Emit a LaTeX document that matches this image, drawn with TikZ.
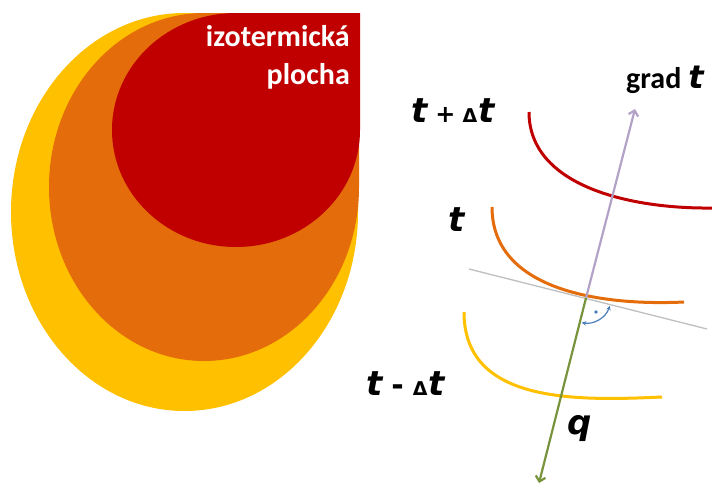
\documentclass[tikz,border=0pt]{standalone}
\usepackage{fontspec}
\setmainfont{Carlito}
\newfontfamily\tfont{DejaVu Sans}[ItalicFont={* Oblique}, BoldItalicFont={* Bold Oblique}]
\usepackage{tikz}
\usetikzlibrary{arrows.meta, positioning}

\definecolor{isoYellow}{HTML}{FFC000}
\definecolor{isoOrange}{HTML}{E46C0A}
\definecolor{isoRed}{HTML}{C00000}
\definecolor{gradPurple}{HTML}{B3A2C7}
\definecolor{flowGreen}{HTML}{77933C}
\definecolor{tanGray}{HTML}{BFBFBF}
\definecolor{angBlue}{HTML}{4A7EBB}

\newcommand{\tvar}[1][34]{{\fontsize{#1}{#1}\selectfont\tfont\bfseries\itshape t}}
\newcommand{\tsym}[2]{{\fontsize{#1}{#1}\selectfont\tfont\bfseries #2}}

\begin{document}
\begin{tikzpicture}[x=1pt, y=-1pt,
    isoline/.style={line width=3pt},
    vecline/.style={line width=2.2pt, -{Straight Barb[length=5pt, width=10pt]}},
    tlabel/.style={inner sep=0, anchor=base west},
    anglemark/.style={angBlue, line width=1.2pt, {Stealth[length=4.5pt, width=4.5pt]}-{Stealth[length=4.5pt, width=4.5pt]}}]
\useasboundingbox (0,0) rectangle (712,485);

% Isothermal surfaces (teardrops sharing the top right corner)
\fill[isoYellow] (11,212) arc[start angle=180, end angle=90, x radius=173.5pt, y radius=199pt]
    -- (358,13) -- (358,212) arc[start angle=0, end angle=-180, x radius=173.5pt, y radius=199pt] -- cycle;
\fill[isoOrange] (49,187) arc[start angle=180, end angle=90, x radius=155pt, y radius=174pt]
    -- (359,13) -- (359,187) arc[start angle=0, end angle=-180, x radius=155pt, y radius=174pt] -- cycle;
\fill[isoRed] (112,130) arc[start angle=180, end angle=90, x radius=124pt, y radius=117pt]
    -- (360,13) -- (360,130) arc[start angle=0, end angle=-180, x radius=124pt, y radius=117pt] -- cycle;
\node (surflabel) [anchor=north east, align=right, inner sep=0, text=white,
    font=\fontsize{30}{38}\selectfont\bfseries] at (350,25) {izotermická\\plocha};

% Isotherms
\draw[isoline, isoRed] (529,112) .. controls (529,186) and (630,209) .. (712,208);
\draw[isoline, isoOrange] (492,207) .. controls (492,290) and (600,306) .. (684,302);
\draw[isoline, isoYellow] (464,312) .. controls (464,403) and (574,401) .. (662,397);

% Tangent plane and vectors
\coordinate (P) at (586,298);
\coordinate (tanA) at (469,269);
\coordinate (tanB) at (707,329);
\coordinate (gradend) at (635,109);
\coordinate (qend) at (539,483);
\draw[tanGray, line width=1.3pt] (tanA) -- (tanB);
\draw[vecline, gradPurple] (P) -- (gradend);
\draw[vecline, flowGreen] (P) -- (qend);

% Right angle
\draw[anglemark] ([shift={(260:25pt)}]P) arc[start angle=260, end angle=342, radius=25pt];
\fill[angBlue] (596,312) circle (1.8pt);

% Labels
\node (tplus) [tlabel] at (411,122) {\tvar\hspace{8pt}\tsym{24}{+}\hspace{7pt}\tsym{19}{Δ}\hspace{1pt}\tvar};
\node (tmid) [tlabel] at (448,231) {\tvar};
\node (tminus) [tlabel] at (366,395) {\tvar\hspace{9pt}\tsym{30}{-}\hspace{9pt}\tsym{19}{Δ}\hspace{1pt}\tvar};
\node (qlabel) [tlabel] at (567,434) {{\fontsize{34}{34}\selectfont\tfont\bfseries\itshape q}};
\node (gradlabel) [tlabel, font=\fontsize{30}{30}\selectfont\bfseries] at (626,88) {grad\hspace{7pt}\tvar[32]};
\end{tikzpicture}
\end{document}
